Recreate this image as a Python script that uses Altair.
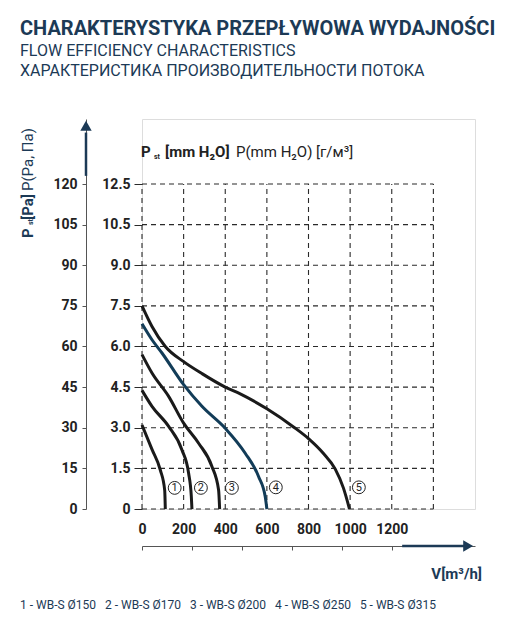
import altair as alt
import pandas as pd

# flow V [m3/h] and static pressure Pst [Pa]
curve_1_v = [0, 48, 88, 109, 112]
curve_1_p = [31, 22, 14.4, 7, 0]
curve_2_v = [0, 48, 128, 192, 224, 237, 240]
curve_2_p = [43.8, 37.9, 30.5, 21.8, 13.2, 4.6, 0]
curve_3_v = [0, 48, 128, 200, 272, 336, 368, 373]
curve_3_p = [57, 50.2, 41.6, 31.7, 24.3, 15.7, 7, 0]
curve_4_v = [0, 48, 96, 200, 288, 400, 496, 560, 592, 600]
curve_4_p = [68.4, 62.5, 57.6, 45.9, 37.9, 29.8, 20.6, 12, 4.6, 0]
curve_5_v = [0, 48, 112, 200, 288, 400, 472, 600, 728, 800, 872, 928, 968, 997]
curve_5_p = [75, 67.4, 60, 54.4, 50, 45, 42.5, 37, 30.3, 26, 20.5, 14.8, 7.7, 0]

curve_ids = ["1", "2", "3", "4", "5"]
models = ["WB-S Ø150", "WB-S Ø170", "WB-S Ø200", "WB-S Ø250", "WB-S Ø315"]
curve_colors = ["#1a1a1a", "#1a1a1a", "#1a1a1a", "#123c58", "#1a1a1a"]

# circled numbers next to the curve ends
label_v = [157, 283, 432, 643, 1042]
label_p = [7.8, 7.8, 7.8, 8.0, 8.0]

pa_ticks = [0, 15, 30, 45, 60, 75, 90, 105, 120]
mm_labels = ["0", "1.5", "3.0", "4.5", "6.0", "7.5", "9.0", "10.5", "12.5"]
grid_v = [0, 200, 400, 600, 800, 1000, 1200, 1400]
flow_labels = [0, 200, 400, 600, 800, 1000, 1200]
arrow_ticks = [0, 240, 480, 720, 960, 1200]

NAVY = "#1c3a56"
INK = "#222222"
FONT = "Roboto"

rows = []
for cid, vs, ps in zip(curve_ids,
                       [curve_1_v, curve_2_v, curve_3_v, curve_4_v, curve_5_v],
                       [curve_1_p, curve_2_p, curve_3_p, curve_4_p, curve_5_p]):
    for k, (v, p) in enumerate(zip(vs, ps)):
        rows.append({"curve": cid, "v": v, "p": p, "k": k})
curves_df = pd.DataFrame(rows)
labels_df = pd.DataFrame({"curve": curve_ids, "v": label_v, "p": label_p})
one = pd.DataFrame({"k": [0]})

xs = alt.Scale(domain=[0, 1600], nice=False, zero=True)
ys = alt.Scale(domain=[0, 144], nice=False, zero=True)

mm_expr = " : ".join(
    f"datum.value == {p} ? '{m}'" for p, m in zip(pa_ticks, mm_labels)
) + " : ''"

pa_axis = alt.Axis(
    orient="left", values=pa_ticks, offset=56, title=None, grid=False,
    domain=True, domainColor="#555555", domainWidth=1,
    ticks=True, tickColor="#555555", tickSize=4,
    labelFont=FONT, labelFontSize=14, labelFontWeight="bold",
    labelColor=INK, labelPadding=5,
)
mm_axis = alt.Axis(
    orient="left", values=pa_ticks, labelExpr=mm_expr, title=None, grid=False,
    domain=False, ticks=True, tickColor="#2a2a2a", tickSize=8,
    labelFont=FONT, labelFontSize=14, labelFontWeight="bold",
    labelColor=INK, labelPadding=4,
)
label_axis = alt.Axis(
    orient="bottom", values=flow_labels, format="d", title=None, grid=False,
    domain=False, ticks=False, tickSize=0, labelFlush=False, labelOverlap=False,
    labelFont=FONT, labelFontSize=14, labelFontWeight="bold",
    labelColor=INK, labelPadding=13,
)
arrow_axis = alt.Axis(
    orient="bottom", values=arrow_ticks, offset=37, title=None, grid=False,
    labels=False, domain=True, domainColor="#555555", domainWidth=1,
    ticks=True, tickColor="#555555", tickSize=4,
)

dash = dict(strokeDash=[5, 4], color="#2a2a2a", strokeWidth=1.1)

hgrid = alt.Chart(pd.DataFrame({"pa": pa_ticks})).mark_rule(**dash).encode(
    y=alt.Y("pa:Q", scale=ys, axis=pa_axis),
    x=alt.XDatum(0, type="quantitative", scale=xs, axis=None),
    x2=alt.X2Datum(grid_v[-1]),
)
vgrid = alt.Chart(pd.DataFrame({"v": grid_v})).mark_rule(**dash).encode(
    x=alt.X("v:Q", scale=xs, axis=arrow_axis),
    y=alt.YDatum(0, type="quantitative", scale=ys, axis=None),
    y2=alt.Y2Datum(pa_ticks[-1]),
)

lines = alt.Chart(curves_df).mark_line(strokeWidth=3, interpolate="monotone").encode(
    x=alt.X("v:Q", scale=xs, axis=label_axis),
    y=alt.Y("p:Q", scale=ys, axis=mm_axis),
    color=alt.Color("curve:N", scale=alt.Scale(domain=curve_ids, range=curve_colors), legend=None),
    order=alt.Order("k:Q"),
)

rings = alt.Chart(labels_df).mark_circle(
    size=165, color="white", stroke=INK, strokeWidth=1, opacity=1
).encode(
    x=alt.X("v:Q", scale=xs, axis=None),
    y=alt.Y("p:Q", scale=ys, axis=None),
)
ring_text = alt.Chart(labels_df).mark_text(
    font=FONT, fontSize=11, color=INK, baseline="middle", dy=0.5
).encode(
    x=alt.X("v:Q", scale=xs, axis=None),
    y=alt.Y("p:Q", scale=ys, axis=None),
    text="curve:N",
)

# axis arrows
y_shaft = alt.Chart(one).mark_rule(color=NAVY, strokeWidth=2.5).encode(
    x=alt.value(-56), y=alt.YDatum(123, axis=None), y2=alt.Y2Datum(139)
)
y_head = alt.Chart(one).mark_point(
    shape="triangle-up", size=130, filled=True, color=NAVY, opacity=1
).encode(x=alt.value(-56), y=alt.YDatum(141.5, axis=None))
x_shaft = alt.Chart(one).mark_rule(color=NAVY, strokeWidth=2.5).encode(
    y=alt.value(427), x=alt.XDatum(1250, axis=None), x2=alt.X2Datum(1560)
)
x_head = alt.Chart(one).mark_point(
    shape="triangle-right", size=130, filled=True, color=NAVY, opacity=1
).encode(y=alt.value(427), x=alt.XDatum(1567, axis=None))


def note(text, x, y, size=15, weight="bold", angle=0, align="left",
         baseline="alphabetic", color=INK):
    return alt.Chart(one).mark_text(
        text=text, font=FONT, fontSize=size, fontWeight=weight, angle=angle,
        align=align, baseline=baseline, color=color,
    ).encode(x=alt.value(x), y=alt.value(y))


gap = "\u00a0" * 3
notes = [
    # header above the grid
    note("P", -1, 38),
    note("st", 12, 40, size=7),
    note("[mm H₂O]", 23, 38),
    note("P(mm H₂O) [г/м³]", 94, 38, weight="normal"),
    # rotated y title
    note("P", -114, 119, angle=270, baseline="middle", color=NAVY),
    note("st", -111, 106, size=7, angle=270, baseline="middle", color=NAVY),
    note("[Pa]", -114, 101, angle=270, baseline="middle", color=NAVY),
    note("P(Pa, Па)", -114, 72, weight="normal", angle=270, baseline="middle", color=NAVY),
    # x title
    note("V[m³/h]", 340, 460, align="right", color=NAVY),
    # model list
    note(gap.join(f"{c} - {m}" for c, m in zip(curve_ids, models)),
         -122, 486, size=12, weight="normal", baseline="middle", color=NAVY),
]

chart = (
    alt.layer(hgrid, vgrid, lines, rings, ring_text,
              y_shaft, y_head, x_shaft, x_head, *notes)
    .resolve_axis(x="independent", y="independent")
    .properties(
        width=333,
        height=390,
        autosize="none",
        padding={"left": 134, "top": 111, "right": 23, "bottom": 117},
        title=alt.TitleParams(
            text="CHARAKTERYSTYKA PRZEPŁYWOWA WYDAJNOŚCI",
            subtitle=["FLOW EFFICIENCY CHARACTERISTICS",
                      "ХАРАКТЕРИСТИКА ПРОИЗВОДИТЕЛЬНОСТИ ПОТОКА"],
            anchor="start", frame="group", dx=-122, offset=40,
            font=FONT, fontSize=20, fontWeight="bold", color=NAVY,
            subtitleFont=FONT, subtitleFontSize=16, subtitleColor=NAVY,
            subtitleLineHeight=20, subtitlePadding=4,
        ),
    )
    .configure_view(stroke=None)
    .configure(background="white")
)

chart.save("out.html", embed_options={"renderer": "svg", "actions": False})
